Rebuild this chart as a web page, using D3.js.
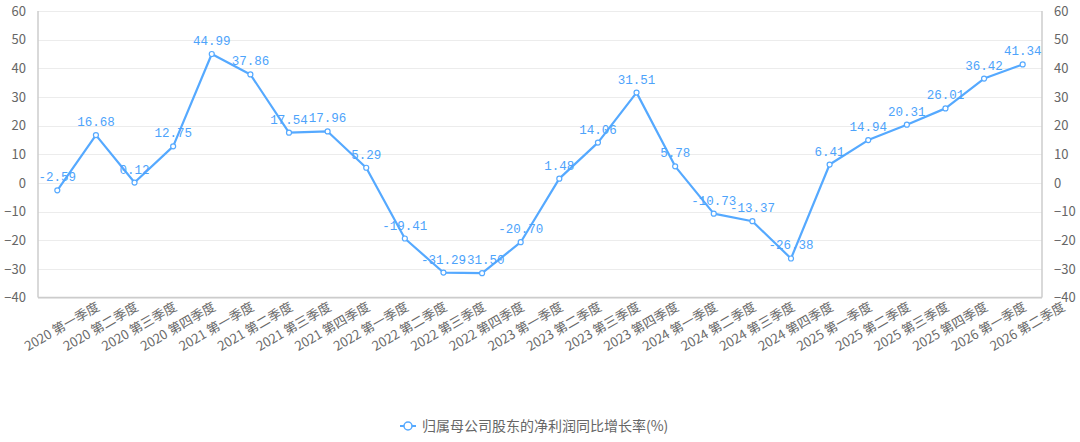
<!DOCTYPE html>
<html><head><meta charset="utf-8">
<script src="https://cdn.jsdelivr.net/npm/d3@7"></script>
<style>body{margin:0;background:#fff}svg{display:block}</style>
</head><body><div id="c"></div>
<script>
const categories = ["2020 第一季度","2020 第二季度","2020 第三季度","2020 第四季度","2021 第一季度","2021 第二季度","2021 第三季度","2021 第四季度","2022 第一季度","2022 第二季度","2022 第三季度","2022 第四季度","2023 第一季度","2023 第二季度","2023 第三季度","2023 第四季度","2024 第一季度","2024 第二季度","2024 第三季度","2024 第四季度","2025 第一季度","2025 第二季度","2025 第三季度","2025 第四季度","2026 第一季度","2026 第二季度"];
const values = [-2.59,16.68,0.12,12.75,44.99,37.86,17.54,17.96,5.29,-19.41,-31.29,-31.50,-20.70,1.48,14.06,31.51,5.78,-10.73,-13.37,-26.38,6.41,14.94,20.31,26.01,36.42,41.34];
const yTicks = [-40,-30,-20,-10,0,10,20,30,40,50,60];
const seriesName = "归属母公司股东的净利润同比增长率(%)";

const W=1080,H=442, L=38, R=1042, T=11, B=297.5;
const color="#55a9ff", labelColor="#4da3fb";
const svg=d3.select("#c").append("svg").attr("width",W).attr("height",H);
const x=d3.scaleBand().domain(categories).range([L,R]);
const y=d3.scaleLinear().domain([-40,60]).range([B,T]);
const sans="'Noto Sans CJK SC','Noto Sans',sans-serif";

// grid
svg.append("g").selectAll("line").data(yTicks).join("line")
 .attr("x1",L).attr("x2",R).attr("y1",d=>Math.round(y(d))+0.5).attr("y2",d=>Math.round(y(d))+0.5)
 .attr("stroke","#ececec").attr("stroke-width",1);
// axes lines
const ax=svg.append("g").attr("stroke","#cccccc").attr("stroke-width",1.5);
ax.append("line").attr("x1",L).attr("x2",L).attr("y1",T).attr("y2",B);
ax.append("line").attr("x1",R).attr("x2",R).attr("y1",T).attr("y2",B);
ax.append("line").attr("x1",L).attr("x2",R).attr("y1",B).attr("y2",B);

// y labels
const leftAxis=d3.axisLeft(y).tickValues(yTicks).tickSize(0).tickPadding(12);
svg.append("g").attr("transform",`translate(${L},0)`).call(leftAxis)
 .call(g=>{g.select(".domain").remove();g.selectAll("text").attr("fill","#666").attr("font-size",13).attr("font-family",sans);});
const rightAxis=d3.axisRight(y).tickValues(yTicks).tickSize(0).tickPadding(12);
svg.append("g").attr("transform",`translate(${R},0)`).call(rightAxis)
 .call(g=>{g.select(".domain").remove();g.selectAll("text").attr("fill","#666").attr("font-size",13).attr("font-family",sans);});

// x labels
svg.append("g").selectAll("text").data(categories).join("text")
 .attr("transform",d=>`translate(${x(d)+x.bandwidth()/2+41},${B+8}) rotate(-30)`)
 .attr("text-anchor","end").attr("dy","0.35em")
 .attr("fill","#6a6a6a").attr("font-size",13).attr("font-family",sans).text(d=>d);

// line
const line=d3.line().x((d,i)=>x(categories[i])+x.bandwidth()/2).y(d=>y(d));
svg.append("path").datum(values).attr("d",line).attr("fill","none")
 .attr("stroke",color).attr("stroke-width",2.2).attr("stroke-linejoin","round");
svg.append("g").selectAll("circle").data(values).join("circle")
 .attr("cx",(d,i)=>x(categories[i])+x.bandwidth()/2).attr("cy",d=>y(d)).attr("r",2.5)
 .attr("fill","#fff").attr("stroke",color).attr("stroke-width",1.2);
svg.append("g").selectAll("text").data(values).join("text")
 .attr("x",(d,i)=>x(categories[i])+x.bandwidth()/2).attr("y",d=>y(d)-9)
 .attr("text-anchor","middle").attr("fill",labelColor)
 .attr("font-size",12.5).attr("font-family","'Liberation Mono','DejaVu Sans Mono',monospace")
 .text(d=>d.toFixed(2));

// legend
const lg=svg.append("g");
lg.append("line").attr("x1",400).attr("x2",416).attr("y1",426).attr("y2",426).attr("stroke",color).attr("stroke-width",2);
lg.append("circle").attr("cx",408).attr("cy",426).attr("r",4).attr("fill","#fff").attr("stroke",color).attr("stroke-width",1.5);
lg.append("text").attr("x",422).attr("y",426).attr("dy","0.35em").attr("fill","#666")
 .attr("font-size",14).attr("font-family",sans).text(seriesName);
</script></body></html>
